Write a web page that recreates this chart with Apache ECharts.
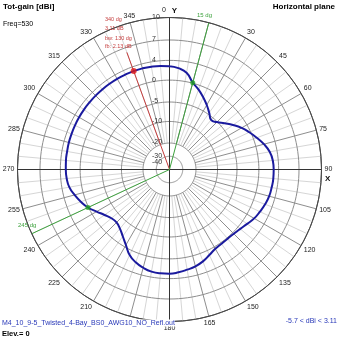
<!DOCTYPE html>
<html>
<head>
<meta charset="utf-8">
<script src="https://cdn.jsdelivr.net/npm/echarts@6/dist/echarts.min.js"></script>
<style>
  html, body { margin: 0; padding: 0; background: #fff; }
  #chart { width: 339px; height: 339px; }
</style>
</head>
<body>
<div id="chart"></div>
<script>
// Horizontal-plane pattern, total gain in dBi, azimuth clockwise from Y
const azimuth = [0, 5, 10, 15, 20, 25, 30, 35, 40, 45, 50, 55, 60, 65, 70, 75, 80, 85,
  90, 95, 100, 105, 110, 115, 120, 125, 130, 135, 140, 145, 150, 155, 160, 165, 170, 175,
  180, 185, 190, 195, 200, 205, 210, 215, 220, 225, 230, 235, 240, 245, 250, 255, 260, 265,
  270, 275, 280, 285, 290, 295, 300, 305, 310, 315, 320, 325, 330, 335, 340, 345, 350, 355, 360];
const totGain = [2.8, 2.5, 1.8, 0.11, -1.0, -2.2, -3.4, -4.6, -5.7, -5.1, -4.0, -2.7, -1.4, -0.3, 0.7, 1.7, 2.5, 2.9,
  3.0, 3.0, 2.9, 2.8, 2.5, 2.1, 1.7, 1.1, 0.6, 0.3, 0.2, 0.25, 0.45, 1.0, 1.7, 2.2, 2.5, 2.8,
  3.0, 3.0, 2.9, 2.5, 1.9, 1.0, -0.5, -1.8, -2.8, -3.3, -3.1, -2.3, -1.2, 0.11, 1.0, 1.8, 2.5, 2.8,
  2.9, 2.95, 2.95, 3.0, 3.0, 3.02, 3.04, 3.05, 3.05, 3.06, 3.07, 3.08, 3.1, 3.1, 3.11, 3.1, 3.05, 2.95, 2.8];

// Gain rings and their tick labels
const ringGains = [10, 7, 4, 0, -5, -10, -20, -30];
const radialTicks = [10, 7, 4, 0, -5, -10, -20, -30, -40];

// Main lobe summary
const maxAzimuth = 340;
const maxGain = 3.11;
const beamEdges = [15, 245];
const halfPowerGain = 0.11;
const beamWidth = 130;
const frontBack = 2.13;
const minGain = -5.7;

// Stretched-log gain scale: gain (dB) -> fraction of the outer radius
const gainScale = {
  gain:   [10, 7, 4, 0, -5, -10, -20, -30, -40],
  radius: [1, 0.852, 0.718, 0.588, 0.444, 0.316, 0.174, 0.087, 0.045]
};
function gainToRadius(g) {
  const G = gainScale.gain, R = gainScale.radius;
  if (g >= G[0]) return R[0];
  for (let i = 1; i < G.length; i++) {
    if (g >= G[i]) {
      const t = (g - G[i]) / (G[i - 1] - G[i]);
      return R[i] + t * (R[i - 1] - R[i]);
    }
  }
  return R[R.length - 1];
}

const FONT = '"Liberation Sans", Arial, sans-serif';
const NARROW = '"Liberation Sans Narrow", "Liberation Sans", Arial, sans-serif';

const spokeAngles = [];
for (let a = 0; a < 360; a += 5) if (a % 90 !== 0) spokeAngles.push(a);

const chart = echarts.init(document.getElementById('chart'), null, { renderer: 'canvas' });

chart.setOption({
  animation: false,
  backgroundColor: '#fff',
  polar: { center: [169.5, 169.5], radius: 152 },
  angleAxis: {
    type: 'value', min: 0, max: 360, interval: 15,
    startAngle: 90, clockwise: true,
    axisLine: { show: true, lineStyle: { color: '#4a4a4a', width: 1 } },
    axisTick: { show: false },
    splitLine: { show: false },
    axisLabel: {
      margin: 3,
      color: '#222',
      fontSize: 7,
      fontFamily: FONT,
      formatter: v => v === 0 ? '{n|0}   {b|Y}' : (v === 15 ? '' : String(v)),
      rich: {
        n: { fontSize: 7, fontFamily: FONT, color: '#222' },
        b: { fontSize: 8, fontWeight: 'bold', fontFamily: FONT, color: '#111' }
      }
    }
  },
  radiusAxis: {
    type: 'value', min: 0, max: 1,
    axisLine: { show: false }, axisTick: { show: false },
    axisLabel: { show: false }, splitLine: { show: false }
  },
  series: [
    // light and dark spokes from the -20 dB ring outward
    {
      type: 'custom', coordinateSystem: 'polar', silent: true, z: 1,
      data: spokeAngles.map(a => [gainToRadius(-20), a]),
      renderItem(params, api) {
        const a = api.value(1);
        const p1 = api.coord([api.value(0), a]);
        const p2 = api.coord([1, a]);
        return {
          type: 'line', z2: a % 15 === 0 ? 2 : 1,
          shape: { x1: p1[0], y1: p1[1], x2: p2[0], y2: p2[1] },
          style: { stroke: a % 15 === 0 ? '#8e8e8e' : '#d6d6d6', lineWidth: 1 }
        };
      }
    },
    // gain rings
    {
      type: 'custom', coordinateSystem: 'polar', silent: true, z: 2,
      data: ringGains.map(g => [gainToRadius(g), 0]),
      renderItem(params, api) {
        const r = api.value(0);
        const pts = [];
        for (let a = 0; a <= 360; a += 2) pts.push(api.coord([r, a]));
        return {
          type: 'polyline', shape: { points: pts },
          style: { stroke: params.dataIndex === 0 ? '#4a4a4a' : '#8e8e8e', lineWidth: 1, fill: null }
        };
      }
    },
    // X and Y axes through the centre
    {
      type: 'custom', coordinateSystem: 'polar', silent: true, z: 3,
      data: [[1, 0], [1, 90]],
      renderItem(params, api) {
        const a = api.value(1);
        const p1 = api.coord([1, a]);
        const p2 = api.coord([1, a + 180]);
        return {
          type: 'line',
          shape: { x1: p1[0], y1: p1[1], x2: p2[0], y2: p2[1] },
          style: { stroke: '#333', lineWidth: 1 }
        };
      }
    },
    // gain tick labels along the Y axis
    {
      type: 'custom', coordinateSystem: 'polar', silent: true, z: 4,
      data: radialTicks.map(g => [gainToRadius(g), 0]),
      renderItem(params, api) {
        const p = api.coord([api.value(0), 0]);
        return {
          type: 'text', x: p[0] - 17.5, y: p[1] - 0.5,
          style: {
            text: String(radialTicks[params.dataIndex]),
            fill: '#333', fontSize: 7, fontFamily: FONT,
            align: 'left', verticalAlign: 'middle'
          }
        };
      }
    },
    // direction of maximum gain
    {
      type: 'line', coordinateSystem: 'polar', silent: true, z: 5,
      symbol: 'none',
      data: [[0, maxAzimuth], [0.82, maxAzimuth]],
      lineStyle: { color: '#c43c3c', width: 1 }
    },
    // half-power beam edges
    ...beamEdges.map(a => ({
      type: 'line', coordinateSystem: 'polar', silent: true, z: 5,
      symbol: 'none',
      data: [[0, a], [1, a]],
      lineStyle: { color: '#3ea23e', width: 1 }
    })),
    // radiation pattern
    {
      type: 'line', coordinateSystem: 'polar', silent: true, z: 6,
      symbol: 'none', smooth: 0.5,
      data: azimuth.map((a, i) => [gainToRadius(totGain[i]), a]),
      lineStyle: { color: '#1a1a9e', width: 2 }
    },
    {
      type: 'scatter', coordinateSystem: 'polar', silent: true, z: 7,
      symbolSize: 6,
      data: [[gainToRadius(maxGain), maxAzimuth]],
      itemStyle: { color: '#e01818' }
    },
    {
      type: 'scatter', coordinateSystem: 'polar', silent: true, z: 7,
      symbolSize: 5,
      data: beamEdges.map(a => [gainToRadius(halfPowerGain), a]),
      itemStyle: { color: '#22a022' }
    }
  ],
  graphic: [
    { type: 'text', left: 3, top: 3, z: 10,
      style: { text: 'Tot-gain [dBi]', fill: '#000', font: 'bold 8px ' + FONT } },
    { type: 'text', left: 3, top: 21, z: 10,
      style: { text: 'Freq=530', fill: '#000', font: '7px ' + FONT } },
    { type: 'text', right: 4, top: 3, z: 10,
      style: { text: 'Horizontal plane', fill: '#000', font: 'bold 8px ' + FONT } },
    { type: 'text', x: 325, y: 175, z: 10,
      style: { text: 'X', fill: '#111', font: 'bold 8px ' + FONT } },
    // annotations for the main lobe
    { type: 'text', x: 105, y: 16, z: 10,
      style: { text: maxAzimuth + ' dg', fill: '#c43c3c', font: '5.5px ' + NARROW } },
    { type: 'text', x: 105, y: 25.5, z: 10,
      style: { text: maxGain.toFixed(2) + ' dB', fill: '#c43c3c', font: '5.5px ' + NARROW } },
    { type: 'text', x: 105, y: 35, z: 10,
      style: { text: 'bw: ' + beamWidth + ' dg', fill: '#c43c3c', font: '5.5px ' + NARROW } },
    { type: 'text', x: 105, y: 43.5, z: 10,
      style: { text: 'fb: ' + frontBack.toFixed(2) + ' dB', fill: '#c43c3c', font: '5.5px ' + NARROW } },
    { type: 'text', x: 197, y: 12, z: 10,
      style: { text: beamEdges[0] + ' dg', fill: '#3ea23e', font: '6px ' + NARROW } },
    { type: 'text', x: 18, y: 222.5, z: 10,
      style: { text: beamEdges[1] + ' dg', fill: '#3ea23e', font: '6px ' + NARROW } },
    // footer
    { type: 'text', x: 2, y: 319.5, z: 10,
      style: { text: 'M4_10_9-5_Twisted_4-Bay_BS0_AWG10_NO_Refl.out', fill: '#2838b8',
               font: '7px ' + FONT, backgroundColor: '#fff' } },
    { type: 'text', x: 2, y: 329.5, z: 10,
      style: { text: 'Elev.= 0', fill: '#000', font: 'bold 7.5px ' + FONT } },
    { type: 'text', right: 2, y: 317.5, z: 10,
      style: { text: minGain + ' < dBi < ' + maxGain, fill: '#2838b8', font: '7px ' + FONT } }
  ]
});
</script>
</body>
</html>
